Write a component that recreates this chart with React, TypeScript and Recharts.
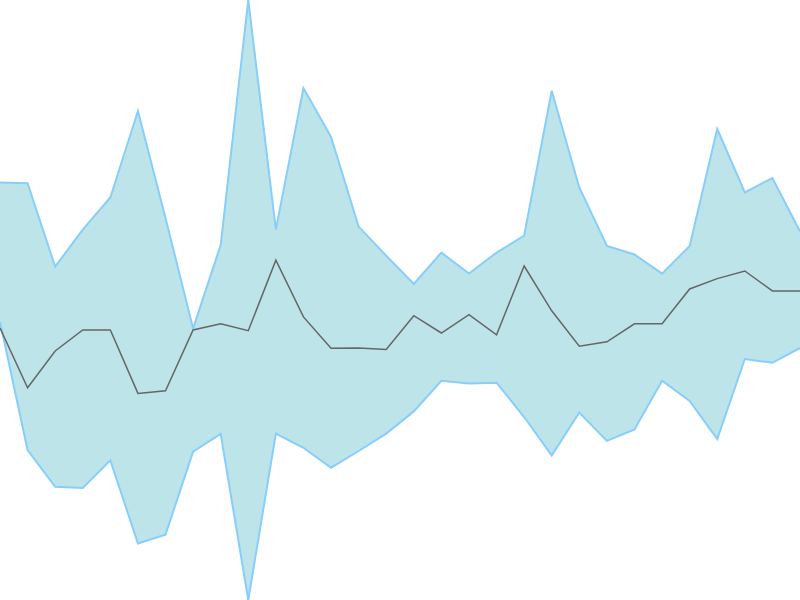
import React from "react";
import { ComposedChart, Area, Line, XAxis, YAxis } from "recharts";

const categories: number[] = Array.from({ length: 30 }, (_, i) => i);

const upperValues: number[] = [
  417.5, 416.7, 333.3, 370.4, 402.5, 489, 382, 271.6, 355, 600,
  370.4, 512, 463, 373.4, 344.4, 316, 347.4, 326.4, 347.4, 364.3,
  509.3, 412.5, 354, 345.5, 326.4, 354, 471, 407.5, 422, 368.5,
];

const lowerValues: number[] = [
  278, 150, 113.2, 112, 139.6, 56.6, 65.4, 148.4, 166, 0,
  166.4, 152.2, 132.3, 149, 166.4, 188.6, 219.2, 216.5, 217.3, 183,
  144.6, 187.5, 159.1, 170.6, 219.2, 199, 161, 241, 237.2, 252,
];

const middleValues: number[] = [
  272, 212.3, 249, 270, 270, 206.6, 209.3, 270, 276.2, 269.3,
  339.8, 283.1, 251.7, 252.1, 250.6, 284.3, 267, 285.4, 265.1, 334,
  289.2, 253.7, 258.2, 276.2, 276.2, 311, 321.4, 329, 309.1, 309.1,
];

const data = categories.map((c, i) => ({
  x: c,
  range: [lowerValues[i], upperValues[i]],
  mid: middleValues[i],
}));

export default function App() {
  return (
    <div style={{ position: "absolute", left: 0, top: 0, width: 800, height: 600 }}>
      <ComposedChart
        width={800}
        height={600}
        data={data}
        margin={{ top: 0, right: 0, bottom: 0, left: 0 }}
      >
        <XAxis dataKey="x" type="number" domain={[0, 29]} hide />
        <YAxis type="number" domain={[0, 600]} hide />
        <Area
          type="linear"
          dataKey="range"
          stroke="#87CEFA"
          strokeWidth={2}
          fill="#BDE4E9"
          fillOpacity={1}
          isAnimationActive={false}
          dot={false}
          activeDot={false}
        />
        <Line
          type="linear"
          dataKey="mid"
          stroke="#666666"
          strokeWidth={1.5}
          dot={false}
          activeDot={false}
          isAnimationActive={false}
        />
      </ComposedChart>
    </div>
  );
}
